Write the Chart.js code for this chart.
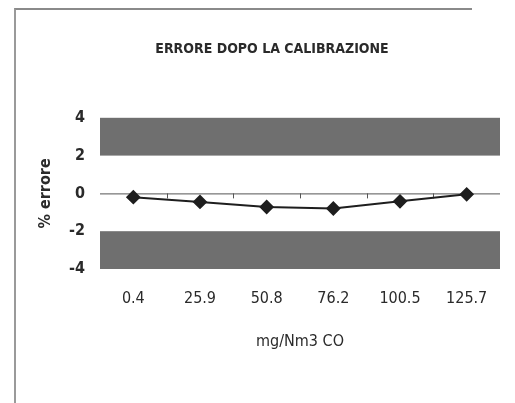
<!DOCTYPE html>
<html>
<head>
<meta charset="utf-8">
<script src="https://cdn.jsdelivr.net/npm/chart.js@4.4.1/dist/chart.umd.min.js"></script>
<style>
  html, body { margin: 0; padding: 0; background: #fff; }
  #wrap { position: relative; width: 515px; height: 403px; }
  #frame {
    position: absolute; left: 14px; top: 8px; width: 456px; height: 400px;
    border-top: 2px solid #8a8a8a; border-left: 2px solid #9a9a9a;
  }
  canvas { position: absolute; left: 0; top: 0; }
</style>
</head>
<body>
<div id="wrap">
  <div id="frame"></div>
  <canvas id="errChart" width="515" height="403"></canvas>
</div>
<script>
// errore percentuale dopo la calibrazione
const concentrations = ["0.4", "25.9", "50.8", "76.2", "100.5", "125.7"];
const errorPct = [-0.2, -0.45, -0.72, -0.8, -0.42, -0.05];
const yTicks = [4, 2, 0, -2, -4];
const darkBands = [[2, 4], [-4, -2]];

const FONT = "'Liberation Sans Narrow', 'DejaVu Sans Condensed', Arial, sans-serif";

// grey bands + zero line with small ticks between categories
const bandsPlugin = {
  id: "bands",
  beforeDatasetsDraw(chart) {
    const { ctx, chartArea, scales } = chart;
    const y = scales.y, x = scales.x;
    ctx.save();
    ctx.fillStyle = "#6f6f6f";
    darkBands.forEach(([lo, hi]) => {
      const top = y.getPixelForValue(hi);
      const bot = y.getPixelForValue(lo);
      ctx.fillRect(chartArea.left, top, chartArea.right - chartArea.left, bot - top);
    });
    const y0 = y.getPixelForValue(0);
    ctx.strokeStyle = "#555";
    ctx.lineWidth = 1;
    ctx.beginPath();
    ctx.moveTo(chartArea.left, y0 + 0.5);
    ctx.lineTo(chartArea.right, y0 + 0.5);
    for (let i = 1; i < concentrations.length; i++) {
      const bx = Math.round((x.getPixelForValue(i - 1) + x.getPixelForValue(i)) / 2) + 0.5;
      ctx.moveTo(bx, y0);
      ctx.lineTo(bx, y0 + 5);
    }
    ctx.stroke();
    ctx.restore();
  },
};

const ctx = document.getElementById("errChart").getContext("2d");
const errChart = new Chart(ctx, {
  type: "line",
  data: {
    labels: concentrations,
    datasets: [
      {
        data: errorPct,
        borderColor: "#1e1e1e",
        backgroundColor: "#1e1e1e",
        borderWidth: 2,
        pointStyle: "rectRot",
        pointRadius: 6,
        pointHoverRadius: 6,
        tension: 0,
      },
    ],
  },
  options: {
    responsive: false,
    animation: false,
    events: [],
    layout: { padding: { left: 44, right: 15, top: 0, bottom: 44 } },
    plugins: {
      legend: { display: false },
      tooltip: { enabled: false },
      title: {
        display: true,
        text: "ERRORE DOPO LA CALIBRAZIONE",
        color: "#2a2a2a",
        font: { family: FONT, size: 14, weight: "bold" },
        padding: { top: 41, bottom: 60 },
      },
    },
    scales: {
      x: {
        offset: true,
        grid: { display: false, drawTicks: false },
        border: { display: false },
        ticks: { color: "#2a2a2a", padding: 20, font: { family: FONT, size: 16 } },
        title: {
          display: true,
          text: "mg/Nm3 CO",
          color: "#2a2a2a",
          font: { family: FONT, size: 16 },
          padding: { top: 0, bottom: 8 },
        },
        afterFit(scale) { scale.height = 90; },
      },
      y: {
        min: -4,
        max: 4,
        afterBuildTicks(scale) { scale.ticks = yTicks.map((v) => ({ value: v })); },
        grid: { display: false, drawTicks: false },
        border: { display: false },
        ticks: { color: "#2a2a2a", padding: 15, font: { family: FONT, size: 16, weight: "bold" } },
        title: {
          display: true,
          text: "% errore",
          color: "#2a2a2a",
          font: { family: FONT, size: 16, weight: "bold" },
          padding: { top: -8, bottom: 0 },
        },
        afterFit(scale) { scale.width = 56; },
      },
    },
  },
  plugins: [bandsPlugin],
});
</script>
</body>
</html>
